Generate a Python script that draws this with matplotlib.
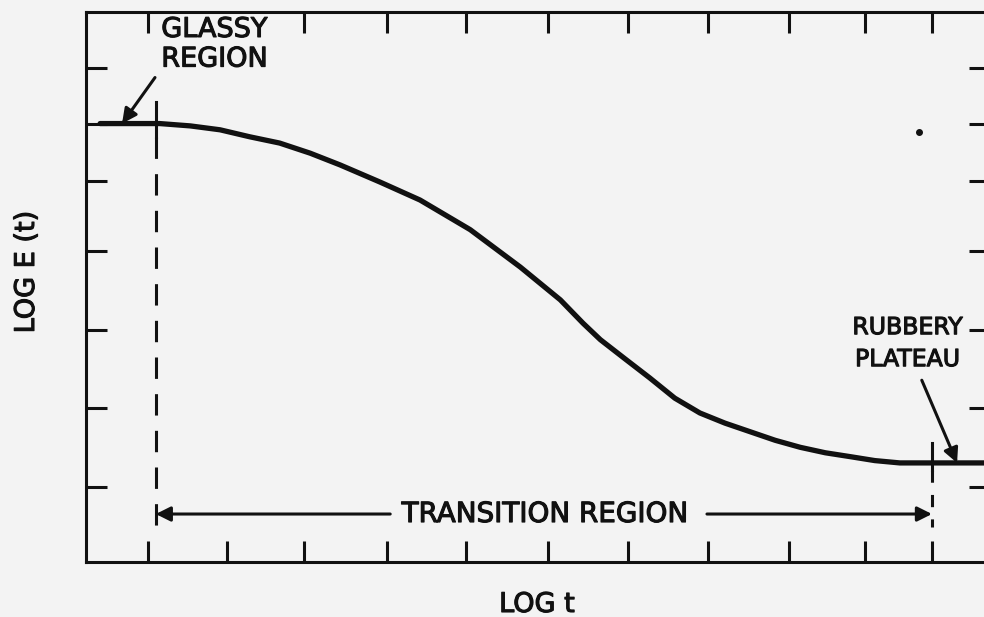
import numpy as np
import matplotlib
matplotlib.use('Agg')
import matplotlib.pyplot as plt
import matplotlib.patheffects as pe

# relaxation modulus master curve (arbitrary log units)
log_t = [0.18, 0.94, 1.33, 1.71, 2.09, 2.47, 2.86, 3.24, 3.75, 4.26,
         4.90, 5.54, 6.05, 6.34, 6.56, 6.88, 7.19, 7.51, 7.83, 8.15,
         8.47, 8.79, 9.11, 9.43, 9.75, 10.06, 10.38, 10.79, 11.53]
log_E = [5.62, 5.62, 5.59, 5.54, 5.45, 5.37, 5.24, 5.09, 4.87, 4.64,
         4.26, 3.78, 3.36, 3.06, 2.85, 2.60, 2.36, 2.10, 1.91, 1.78,
         1.67, 1.56, 1.47, 1.40, 1.35, 1.30, 1.27, 1.27, 1.27]

x_ticks = [0.79, 1.80, 2.78, 3.84, 4.85, 5.89, 6.91, 7.93, 8.97, 9.94, 10.79]
# top edge: the tick under the GLASSY label is not drawn
top_ticks = [0.79, 2.78, 3.84, 4.85, 5.89, 6.91, 7.93, 8.97, 9.94, 10.79]
y_ticks = [0.96, 1.97, 2.97, 3.99, 4.88, 5.62, 6.33]

glassy_edge = 0.89     # end of glassy region
rubbery_edge = 10.79   # start of rubbery plateau

ink = '#111111'
paper = '#f3f3f3'
bold = [pe.withStroke(linewidth=0.8, foreground=ink)]

fig = plt.figure(figsize=(9.84, 6.17), dpi=100, facecolor=paper)
ax = fig.add_axes([86 / 984, 55 / 617, 904 / 984, 550 / 617], facecolor=paper)
ax.set_xlim(0, 11.53)
ax.set_ylim(0, 7.05)

ax.plot(log_t, log_E, color=ink, lw=3.8, solid_capstyle='round',
        solid_joinstyle='round')

# region boundaries
ax.plot([glassy_edge, glassy_edge], [5.90, 5.45], color=ink, lw=2.2)
ax.plot([glassy_edge, glassy_edge], [5.45, 0.45], color=ink, lw=2.2, dashes=(7, 5))
ax.plot([rubbery_edge, rubbery_edge], [1.52, 1.18], color=ink, lw=2.2)
ax.plot([rubbery_edge, rubbery_edge], [1.18, 0.45], color=ink, lw=2.2, dashes=(4, 4))

arrow = dict(arrowstyle='-|>', mutation_scale=22, lw=2.2, color=ink,
             shrinkA=0, shrinkB=0)
ax.annotate('', xy=(glassy_edge, 0.615), xytext=(3.88, 0.615), arrowprops=arrow)
ax.annotate('', xy=(rubbery_edge, 0.615), xytext=(7.92, 0.615), arrowprops=arrow)
ax.text(5.85, 0.615, 'TRANSITION REGION', ha='center', va='center',
        fontsize=20, color=ink, path_effects=bold)

ax.annotate('', xy=(0.46, 5.62), xytext=(0.88, 6.21), arrowprops=arrow)
ax.text(0.96, 6.82, 'GLASSY', ha='left', va='center', fontsize=19.5, color=ink,
        path_effects=bold)
ax.text(0.96, 6.44, 'REGION', ha='left', va='center', fontsize=19.5, color=ink,
        path_effects=bold)

ax.annotate('', xy=(11.11, 1.27), xytext=(10.66, 2.33), arrowprops=arrow)
ax.text(10.48, 3.01, 'RUBBERY', ha='center', va='center', fontsize=17,
        color=ink, path_effects=bold)
ax.text(10.48, 2.60, 'PLATEAU', ha='center', va='center', fontsize=17,
        color=ink, path_effects=bold)

# scan speck
ax.plot([10.62], [5.51], 'o', ms=4, color=ink)

ax.set_xticks(x_ticks)
ax.set_yticks(y_ticks)
ax.tick_params(direction='in', length=15, width=2.2, color=ink,
               top=False, right=True, labelbottom=False, labelleft=False)
top = ax.secondary_xaxis('top')
top.set_xticks(top_ticks)
top.tick_params(direction='in', length=15, width=2.2, color=ink, labeltop=False)
top.spines['top'].set_visible(False)
for s in ax.spines.values():
    s.set_linewidth(2.2)
    s.set_color(ink)

fig.text(537 / 984, 1 - 605 / 617, 'LOG t', ha='center', va='center',
         fontsize=19.5, color=ink, path_effects=bold)
fig.text(27 / 984, 1 - 272 / 617, 'LOG E (t)', ha='center', va='center',
         rotation=90, fontsize=19.5, color=ink, path_effects=bold)

fig.savefig('out.png', dpi=100, facecolor=paper)
